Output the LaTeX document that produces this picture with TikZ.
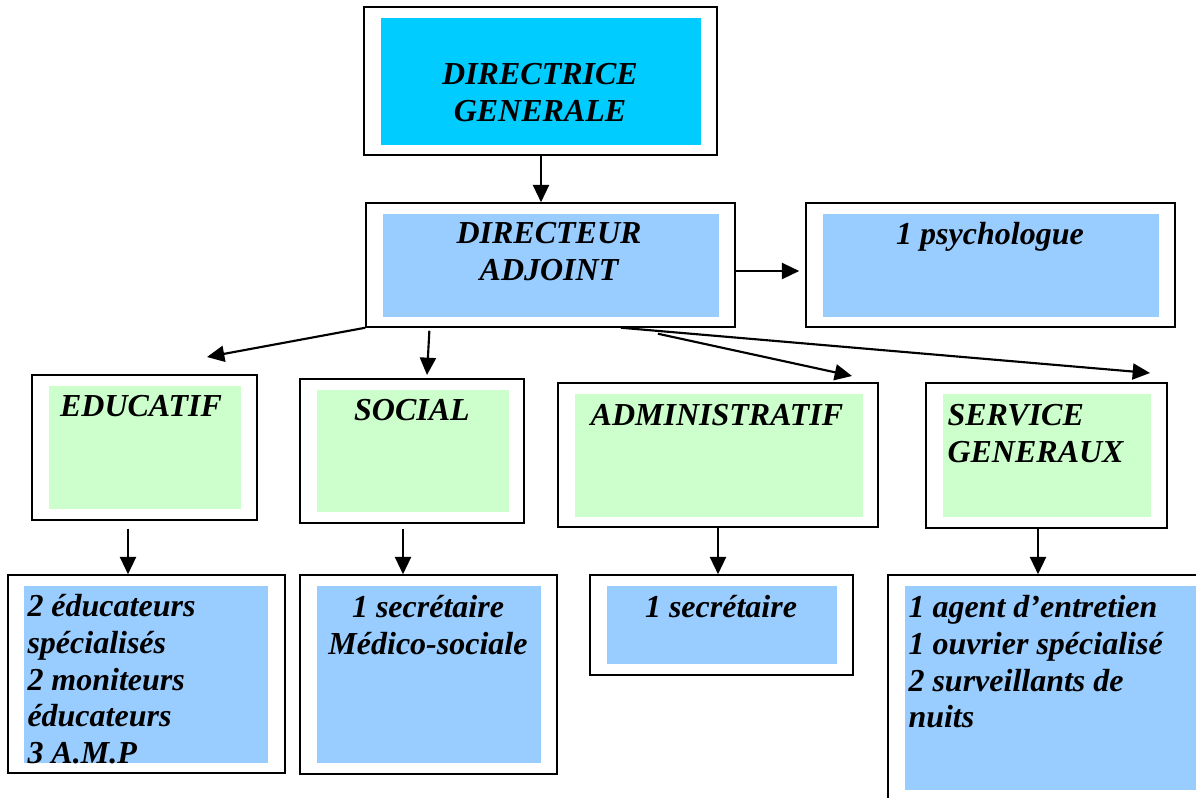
\documentclass[tikz,border=0pt]{standalone}
\usepackage{fontspec}
\setmainfont{Liberation Serif}
\usetikzlibrary{fit,calc,arrows.meta}

\definecolor{dgcyan}{RGB}{0,204,255}
\definecolor{staffblue}{RGB}{153,204,255}
\definecolor{servgreen}{RGB}{204,255,204}

\tikzset{every picture/.style={line width=0.75pt}}
\tikzset{
	outerbox/.style={draw, line width=1.1pt, fill=white, inner sep=0pt},
	innerbox/.style={fill=#1, inner sep=0pt},
	boxtext/.style={inner sep=0pt, anchor=north, font=\fontsize{24}{27.5}\selectfont\bfseries\itshape},
	linkarrow/.style={line width=1.6pt, -{Triangle[length=13pt,width=12pt]}},
}

\begin{document}
\begin{tikzpicture}[x=0.75pt,y=0.75pt,yscale=-1,xscale=1]
	\useasboundingbox (0,0) rectangle (1196,797);
	\clip (0,0) rectangle (1196,797);

	%Shape: Directrice generale
	\node [outerbox, fit={(364,7) (717,155)}] (dg) {};
	\node [innerbox=dgcyan, fit={(381,18) (701,145)}] (dgIn) {};
	\node [boxtext, align=center] (dgText) at (540,63) {DIRECTRICE\\GENERALE};

	%Shape: Directeur adjoint
	\node [outerbox, fit={(366,203) (735,327)}] (da) {};
	\node [innerbox=staffblue, fit={(383,214) (719,317)}] (daIn) {};
	\node [boxtext, align=center] (daText) at (549,222) {DIRECTEUR\\ADJOINT};

	%Shape: Psychologue
	\node [outerbox, fit={(806,203) (1175,327)}] (psy) {};
	\node [innerbox=staffblue, fit={(823,214) (1159,317)}] (psyIn) {};
	\node [boxtext] (psyText) at (990,222) {1 psychologue};

	%Shape: Services (row 2)
	\node [outerbox, fit={(32,375) (257,520)}] (educ) {};
	\node [innerbox=servgreen, fit={(49,386) (241,509)}] (educIn) {};
	\node [boxtext] (educText) at (141,395) {EDUCATIF};

	\node [outerbox, fit={(300,379) (524,523)}] (social) {};
	\node [innerbox=servgreen, fit={(317,390) (509,512)}] (socialIn) {};
	\node [boxtext] (socialText) at (412,399) {SOCIAL};

	\node [outerbox, fit={(558,383) (878,527)}] (admin) {};
	\node [innerbox=servgreen, fit={(575,394) (863,517)}] (adminIn) {};
	\node [boxtext] (adminText) at (717,404) {ADMINISTRATIF};

	\node [outerbox, fit={(926,383) (1167,528)}] (serv) {};
	\node [innerbox=servgreen, fit={(943,394) (1151,517)}] (servIn) {};
	\node [boxtext, anchor=north west, align=left] (servText) at (947,404) {SERVICE\\GENERAUX};

	%Shape: Staff (row 3)
	\node [outerbox, fit={(8,575) (285,773)}] (educSub) {};
	\node [innerbox=staffblue, fit={(24,586) (268,763)}] (educSubIn) {};
	\node [boxtext, anchor=north west, align=left] (educSubText) at (27,594) {2 éducateurs\\spécialisés\\2 moniteurs\\éducateurs\\3 A.M.P};

	\node [outerbox, fit={(300,575) (557,774)}] (socialSub) {};
	\node [innerbox=staffblue, fit={(317,586) (541,763)}] (socialSubIn) {};
	\node [boxtext, align=center] (socialSubText) at (428,595) {1 secrétaire\\Médico-sociale};

	\node [outerbox, fit={(590,575) (853,675)}] (adminSub) {};
	\node [innerbox=staffblue, fit={(607,586) (837,664)}] (adminSubIn) {};
	\node [boxtext] (adminSubText) at (721,595) {1 secrétaire};

	\node [outerbox, fit={(888,575) (1215,815)}] (servSub) {};
	\node [innerbox=staffblue, fit={(905,586) (1210,790)}] (servSubIn) {};
	\node [boxtext, anchor=north west, align=left] (servSubText) at (908,595) {1 agent d’entretien\\1 ouvrier spécialisé\\2 surveillants de\\nuits};

	% Arrow ends
	\coordinate (educTip) at (207,357);
	\coordinate (socialTip) at (427,375);
	\coordinate (adminTip) at (852,376);
	\coordinate (servTip) at (1150,373);
	\coordinate (dgX) at (541,0);
	\coordinate (educX) at (128,0);
	\coordinate (socialX) at (403,0);
	\coordinate (adminX) at (718,0);
	\coordinate (servX) at (1038,0);

	% Links
	\draw [linkarrow] (dg.south -| dgX) -- (da.north -| dgX);
	\draw [linkarrow, shorten >=4.5pt] ($(da.east)+(0,6)$) -- ($(psy.west)+(0,6)$);
	\draw [linkarrow] (da.south west) -- (educTip);
	\draw [linkarrow] ($(da.south west)!0.173!(da.south east)+(0,3)$) -- (socialTip);
	\draw [linkarrow] ($(da.south west)!0.69!(da.south east)$) -- (servTip);
	\draw [linkarrow] ($(da.south west)!0.79!(da.south east)+(0,6)$) -- (adminTip);

	\draw [linkarrow, shorten <=6pt] (educ.south -| educX) -- (educSub.north -| educX);
	\draw [linkarrow, shorten <=3.75pt] (social.south -| socialX) -- (socialSub.north -| socialX);
	\draw [linkarrow] (admin.south -| adminX) -- (adminSub.north -| adminX);
	\draw [linkarrow] (serv.south -| servX) -- (servSub.north -| servX);

\end{tikzpicture}
\end{document}
